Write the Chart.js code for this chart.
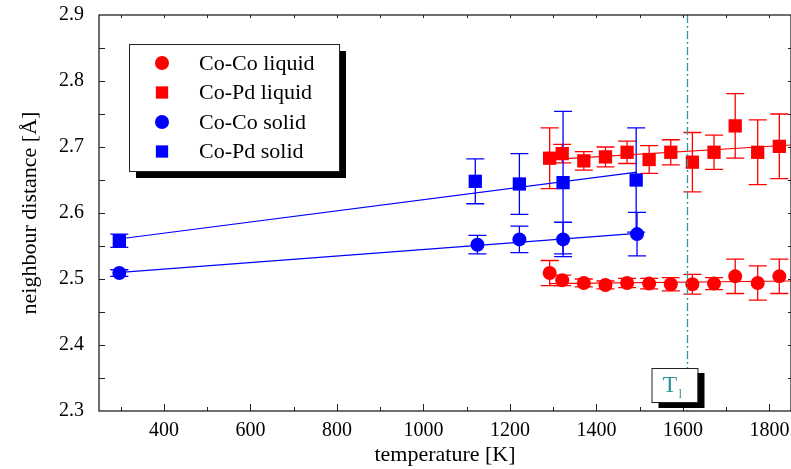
<!DOCTYPE html>
<html>
<head>
<meta charset="utf-8">
<script src="https://cdn.jsdelivr.net/npm/chart.js@4.4.0/dist/chart.umd.min.js"></script>
<style>
  html, body { margin: 0; padding: 0; background: #fff; }
  #wrap { width: 791px; height: 469px; }
</style>
</head>
<body>
<div id="wrap"><canvas id="chart" width="791" height="469"></canvas></div>
<script>
// data
const solidTemps = [297, 1125, 1222, 1323, 1494];
const coCoSolid = [2.509, 2.552, 2.560, 2.560, 2.568];
const coCoSolidErr = [0.005, 0.014, 0.020, 0.026, 0.033];
const coPdSolidTemps = [297, 1120, 1222, 1323, 1492];
const coPdSolid = [2.558, 2.648, 2.644, 2.646, 2.650];
const coPdSolidErr = [0.010, 0.034, 0.046, 0.108, 0.079];

const liquidTemps = [1292, 1321, 1371, 1421, 1471, 1522, 1572, 1622, 1672, 1721, 1773, 1823];
const coCoLiquid = [2.509, 2.498, 2.494, 2.491, 2.494, 2.493, 2.492, 2.492, 2.493, 2.504, 2.494, 2.504];
const coCoLiquidErr = [0.019, 0.008, 0.006, 0.006, 0.007, 0.008, 0.010, 0.015, 0.009, 0.026, 0.026, 0.026];
const coPdLiquid = [2.683, 2.690, 2.679, 2.685, 2.692, 2.681, 2.692, 2.677, 2.692, 2.732, 2.692, 2.701];
const coPdLiquidErr = [0.046, 0.014, 0.014, 0.015, 0.017, 0.021, 0.019, 0.045, 0.026, 0.049, 0.049, 0.049];

// linear fits
const solidFitTemps = [300, 1494];
const coCoSolidFit = [2.510, 2.569];
const coPdSolidFit = [2.561, 2.662];
const liquidFitTemps = [1292, 1850];
const coCoLiquidFit = [2.493, 2.497];
const coPdLiquidFit = [2.681, 2.703];

const liquidusTemp = 1610;

const xTickLabels = [400, 600, 800, 1000, 1200, 1400, 1600, 1800];
const yTickLabels = [2.3, 2.4, 2.5, 2.6, 2.7, 2.8, 2.9];

const RED = '#ff0000';
const BLUE = '#0000ff';
const TEAL = '#2f9a9a';
const SERIF = "'Liberation Serif', 'DejaVu Serif', serif";

const pts = (xs, ys) => xs.map((x, i) => ({ x: x, y: ys[i] }));

// error bars drawn through the scales
const errorBars = {
  id: 'errorBars',
  beforeDatasetsDraw(chart) {
    const { ctx, scales: { x, y } } = chart;
    chart.data.datasets.forEach(ds => {
      if (!ds.errors) return;
      ctx.save();
      ctx.strokeStyle = ds.backgroundColor;
      ctx.lineWidth = 1.3;
      ds.data.forEach((p, j) => {
        const e = ds.errors[j];
        const px = x.getPixelForValue(p.x);
        const top = y.getPixelForValue(p.y + e);
        const bot = y.getPixelForValue(p.y - e);
        ctx.beginPath();
        ctx.moveTo(px, top); ctx.lineTo(px, bot);
        ctx.moveTo(px - 9, top); ctx.lineTo(px + 9, top);
        ctx.moveTo(px - 9, bot); ctx.lineTo(px + 9, bot);
        ctx.stroke();
      });
      ctx.restore();
    });
  }
};

// frame, inward ticks, liquidus line, legend and T_l box
const decorations = {
  id: 'decorations',
  afterDraw(chart) {
    const { ctx, chartArea: a, scales: { x, y } } = chart;
    ctx.save();

    // liquidus line
    const lx = Math.round(x.getPixelForValue(liquidusTemp)) + 0.5;
    ctx.strokeStyle = TEAL;
    ctx.lineWidth = 1.3;
    ctx.setLineDash([8, 3, 2, 3]);
    ctx.beginPath();
    ctx.moveTo(lx, a.top); ctx.lineTo(lx, a.bottom);
    ctx.stroke();
    ctx.setLineDash([]);

    // frame
    ctx.strokeStyle = '#222';
    ctx.lineWidth = 1.3;
    ctx.strokeRect(a.left, a.top, a.right - a.left, a.bottom - a.top);

    // ticks
    ctx.lineWidth = 1;
    ctx.beginPath();
    for (let t = 300; t <= 1800; t += 100) {
      const px = Math.round(x.getPixelForValue(t)) + 0.5;
      const major = t % 200 === 0;
      ctx.moveTo(px, a.bottom); ctx.lineTo(px, a.bottom - (major ? 7 : 4));
      ctx.moveTo(px, a.top); ctx.lineTo(px, a.top + 3);
    }
    for (let i = 1; i < 12; i++) {
      const py = Math.round(y.getPixelForValue(2.3 + i * 0.05)) + 0.5;
      ctx.moveTo(a.left, py); ctx.lineTo(a.left + 6, py);
      ctx.moveTo(a.right, py); ctx.lineTo(a.right - 3, py);
    }
    ctx.stroke();

    // legend box
    const bx = 129, by = 44, bw = 210, bh = 127;
    ctx.fillStyle = '#000';
    ctx.fillRect(bx + 7, by + 7, bw, bh);
    ctx.fillStyle = '#fff';
    ctx.fillRect(bx, by, bw, bh);
    ctx.strokeStyle = '#222';
    ctx.lineWidth = 1;
    ctx.strokeRect(bx + 0.5, by + 0.5, bw, bh);

    const entries = chart.data.datasets.filter(d => d.inLegend);
    ctx.font = '22px ' + SERIF;
    ctx.textBaseline = 'middle';
    ctx.textAlign = 'left';
    entries.forEach((d, i) => {
      const ry = by + 19 + i * 29.5;
      ctx.fillStyle = d.backgroundColor;
      Chart.helpers.drawPoint(ctx, {
        pointStyle: d.pointStyle,
        radius: d.pointStyle === 'rect' ? 8.7 : 7,
        rotation: 0,
        borderWidth: 0
      }, 162, ry);
      ctx.fillStyle = '#000';
      ctx.fillText(d.label, 199, ry + 1);
    });

    // T_l box
    const tx = lx - 36, ty = 368, tw = 46, th = 34;
    ctx.fillStyle = '#000';
    ctx.fillRect(tx + 7, ty + 5, tw, th + 1);
    ctx.fillStyle = '#fff';
    ctx.fillRect(tx, ty, tw, th);
    ctx.strokeStyle = '#222';
    ctx.strokeRect(tx + 0.5, ty + 0.5, tw, th);
    ctx.fillStyle = TEAL;
    ctx.font = '24px ' + SERIF;
    ctx.textAlign = 'left';
    ctx.textBaseline = 'alphabetic';
    ctx.fillText('T', tx + 11, ty + 24);
    ctx.font = '13px ' + SERIF;
    ctx.fillText('l', tx + 27, ty + 30);

    ctx.restore();
  }
};

const pointSet = (label, xs, ys, errs, color, style) => ({
  label: label,
  data: pts(xs, ys),
  errors: errs,
  inLegend: true,
  showLine: false,
  pointStyle: style,
  pointRadius: style === 'rect' ? 9.4 : 7,
  pointHoverRadius: style === 'rect' ? 9.4 : 7,
  backgroundColor: color,
  borderColor: color,
  pointBorderWidth: 0,
  order: 0
});

const fitSet = (xs, ys, color) => ({
  label: 'fit',
  data: pts(xs, ys),
  showLine: true,
  pointRadius: 0,
  borderColor: color,
  borderWidth: 1.2,
  fill: false,
  order: 1
});

new Chart(document.getElementById('chart'), {
  type: 'scatter',
  data: {
    datasets: [
      pointSet('Co-Co liquid', liquidTemps, coCoLiquid, coCoLiquidErr, RED, 'circle'),
      pointSet('Co-Pd liquid', liquidTemps, coPdLiquid, coPdLiquidErr, RED, 'rect'),
      pointSet('Co-Co solid', solidTemps, coCoSolid, coCoSolidErr, BLUE, 'circle'),
      pointSet('Co-Pd solid', coPdSolidTemps, coPdSolid, coPdSolidErr, BLUE, 'rect'),
      fitSet(liquidFitTemps, coCoLiquidFit, RED),
      fitSet(liquidFitTemps, coPdLiquidFit, RED),
      fitSet(solidFitTemps, coCoSolidFit, BLUE),
      fitSet(solidFitTemps, coPdSolidFit, BLUE)
    ]
  },
  options: {
    responsive: false,
    animation: false,
    devicePixelRatio: 1,
    layout: { autoPadding: false, padding: { top: 15, right: -3, left: 0, bottom: 0 } },
    plugins: {
      legend: { display: false },
      tooltip: { enabled: false }
    },
    scales: {
      x: {
        type: 'linear',
        min: 250,
        max: 1850,
        grid: { display: false, drawTicks: false },
        border: { display: false },
        afterBuildTicks: s => { s.ticks = xTickLabels.map(v => ({ value: v })); },
        afterFit: s => {
          s.height = 58;
          s.paddingLeft = 0;
          s.paddingRight = 0;
        },
        ticks: {
          autoSkip: false,
          maxRotation: 0,
          padding: 8,
          color: '#000',
          font: { family: SERIF, size: 20 },
          callback: v => String(v)
        },
        title: {
          display: true,
          text: 'temperature [K]',
          color: '#000',
          font: { family: SERIF, size: 22 },
          padding: { top: 0, bottom: 1 }
        }
      },
      y: {
        type: 'linear',
        min: 2.3,
        max: 2.9,
        grid: { display: false, drawTicks: false },
        border: { display: false },
        afterBuildTicks: s => { s.ticks = yTickLabels.map(v => ({ value: v })); },
        afterFit: s => {
          s.width = 99;
          s.paddingTop = 0;
          s.paddingBottom = 0;
        },
        ticks: {
          padding: 15,
          color: '#000',
          font: { family: SERIF, size: 20 },
          callback: v => Number(v).toFixed(1)
        },
        title: {
          display: true,
          text: 'neighbour distance [Å]',
          color: '#000',
          font: { family: SERIF, size: 22 },
          padding: { top: 17, bottom: 0 }
        }
      }
    }
  },
  plugins: [errorBars, decorations]
});
</script>
</body>
</html>
